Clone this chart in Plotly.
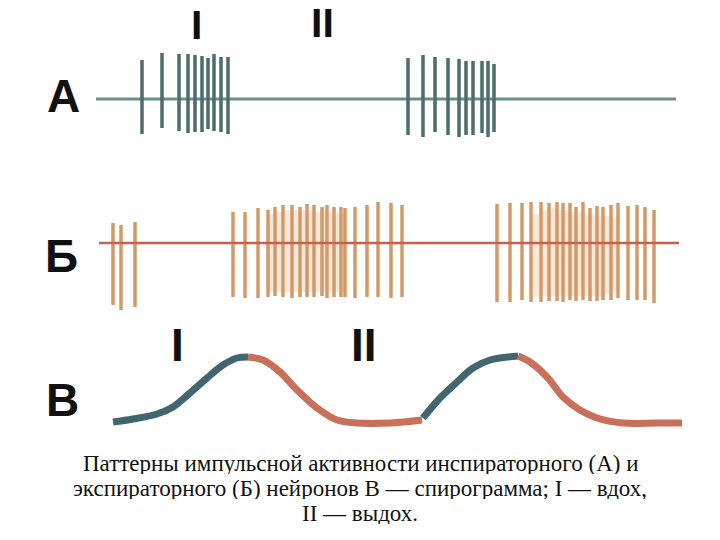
import plotly.graph_objects as go

# ---------------- data (in picture units: x to the right, y downward) ----------------
# Row A — inspiratory neuron spikes
a_baseline_x = [96, 676]
a_baseline_y = [99, 99]
a_spike_x = [142, 162, 179, 188, 195, 202, 208, 214, 221, 228,
             408, 423, 435, 448, 459, 466, 473, 482, 488, 494]
a_spike_top = [60, 53, 54, 54, 55, 56, 58, 54, 57, 57,
               58, 55, 57, 58, 59, 61, 61, 61, 61, 64]
a_spike_bottom = [134, 128, 131, 133, 132, 132, 129, 131, 132, 134,
                  135, 137, 132, 135, 137, 135, 135, 133, 137, 132]

# Row Б — expiratory neuron spikes
b_baseline_x = [99, 679]
b_baseline_y = [243, 243]
b_spike_x = [113, 121, 135,
             233, 245, 258, 268, 275, 283, 292, 300, 307, 314, 322, 327, 334, 341, 345,
             355, 367, 378, 391, 402,
             497, 510, 522, 531, 541, 549, 557, 563, 570, 576, 583, 590, 597, 603, 611,
             618, 628, 637, 645, 654]
b_spike_top = [223, 225, 222,
               212, 212, 208, 210, 207, 205, 205, 207, 204, 205, 207, 205, 207, 207, 208,
               207, 205, 202, 203, 205,
               204, 203, 203, 202, 202, 203, 202, 203, 203, 207, 202, 208, 206, 207, 205,
               203, 206, 205, 207, 210]
b_spike_bottom = [305, 310, 307,
                  297, 298, 298, 297, 296, 297, 298, 297, 297, 297, 296, 298, 297, 297, 297,
                  298, 297, 297, 298, 297,
                  302, 302, 300, 302, 302, 301, 301, 302, 300, 301, 300, 301, 301, 300, 300,
                  298, 300, 300, 300, 303]
# faint shading strokes between dense spikes
b_faint_x = [272, 279, 288, 296, 304, 311, 318, 325, 331, 338, 343,
             536, 545, 553, 560, 567, 573, 580, 587, 594, 600, 607, 614]
b_faint_top = [214, 212, 210, 210, 210, 210, 212, 210, 212, 212, 214,
               214, 210, 208, 210, 210, 212, 212, 214, 214, 216, 216, 218]
b_faint_bottom = [292, 292, 292, 292, 292, 292, 292, 292, 292, 292, 292,
                  296, 296, 296, 296, 296, 296, 296, 296, 296, 296, 294, 292]

# Row В — spirogram
inhale1_x = [113, 133, 157, 173, 190, 207, 223, 237, 248]
inhale1_y = [422, 419, 414, 407, 393, 378, 365, 358, 357]
exhale1_x = [248, 263, 280, 297, 317, 337, 357, 390, 422]
exhale1_y = [357, 360, 372, 390, 408, 420, 423, 423, 420]
inhale2_x = [423, 440, 457, 473, 490, 518]
inhale2_y = [418, 398, 382, 368, 360, 356]
exhale2_x = [518, 530, 547, 563, 580, 597, 623, 657, 682]
exhale2_y = [356, 362, 377, 397, 410, 418, 423, 423, 423]

row_labels = ["А", "Б", "В"]
phase_labels = ["I", "II"]
caption_lines = ["Паттерны импульсной активности инспираторного (А) и",
                 "экспираторного (Б) нейронов В — спирограмма; I — вдох,",
                 "II — выдох."]

# ---------------- helpers ----------------
def segments(xs, tops, bottoms):
    sx, sy = [], []
    for x, t, b in zip(xs, tops, bottoms):
        sx += [x, x, None]
        sy += [b, t, None]
    return sx, sy

fig = go.Figure()

# Row A
fig.add_trace(go.Scatter(x=a_baseline_x, y=a_baseline_y, mode="lines",
                         line=dict(color="#6b8f8c", width=3), hoverinfo="skip"))
sx, sy = segments(a_spike_x, a_spike_top, a_spike_bottom)
fig.add_trace(go.Scatter(x=sx, y=sy, mode="lines",
                         line=dict(color="#4c6d6d", width=3.5), hoverinfo="skip"))

# Row Б
sx, sy = segments(b_faint_x, b_faint_top, b_faint_bottom)
fig.add_trace(go.Scatter(x=sx, y=sy, mode="lines", opacity=0.35,
                         line=dict(color="#e6c09a", width=6), hoverinfo="skip"))
sx, sy = segments(b_spike_x, b_spike_top, b_spike_bottom)
fig.add_trace(go.Scatter(x=sx, y=sy, mode="lines",
                         line=dict(color="#d39a68", width=3.5), hoverinfo="skip"))
fig.add_trace(go.Scatter(x=b_baseline_x, y=b_baseline_y, mode="lines",
                         line=dict(color="#c9604c", width=2.5), hoverinfo="skip"))

# Row В
blue, red = "#42666f", "#c8705a"
for xs, ys, c in [(inhale1_x, inhale1_y, blue), (exhale1_x, exhale1_y, red),
                  (inhale2_x, inhale2_y, blue), (exhale2_x, exhale2_y, red)]:
    fig.add_trace(go.Scatter(x=xs, y=ys, mode="lines", line_shape="spline",
                             line=dict(color=c, width=7), hoverinfo="skip"))

# labels
label_font = dict(family="Liberation Sans, Arial, sans-serif", size=46, color="#111111")
top_font = dict(family="Liberation Sans, Arial, sans-serif", size=41, color="#111111")
for txt, (lx, ly) in zip(row_labels, [(63, 96), (61, 256), (62, 400)]):
    fig.add_annotation(x=lx, y=ly, text=f"<b>{txt}</b>", showarrow=False,
                       xref="x", yref="y", font=label_font, height=36, borderpad=0)
for (txt, lx, ly) in [(phase_labels[0], 196, 25), (phase_labels[1], 322, 23)]:
    fig.add_annotation(x=lx, y=ly, text=f"<b>{txt}</b>", showarrow=False,
                       xref="x", yref="y", font=top_font, height=32, borderpad=0)
for (txt, lx, ly) in [(phase_labels[0], 177, 345), (phase_labels[1], 364, 345)]:
    fig.add_annotation(x=lx, y=ly, text=f"<b>{txt}</b>", showarrow=False,
                       xref="x", yref="y", font=label_font, height=36, borderpad=0)

cap_font = dict(family="Liberation Serif, Times New Roman, serif", size=23, color="#111111")
for i, line in enumerate(caption_lines):
    fig.add_annotation(x=360, y=463 + 25 * i, text=line, showarrow=False,
                       xref="x", yref="y", font=cap_font, height=21, borderpad=0)

fig.update_layout(
    width=720, height=540, margin=dict(l=0, r=0, t=0, b=0),
    paper_bgcolor="white", plot_bgcolor="white", showlegend=False,
    xaxis=dict(range=[0, 720], visible=False, fixedrange=True),
    yaxis=dict(range=[540, 0], visible=False, fixedrange=True),
)
fig.write_html("out.html", config={"displayModeBar": False},
               post_script="document.body.style.margin='0';document.body.style.overflow='hidden';")
